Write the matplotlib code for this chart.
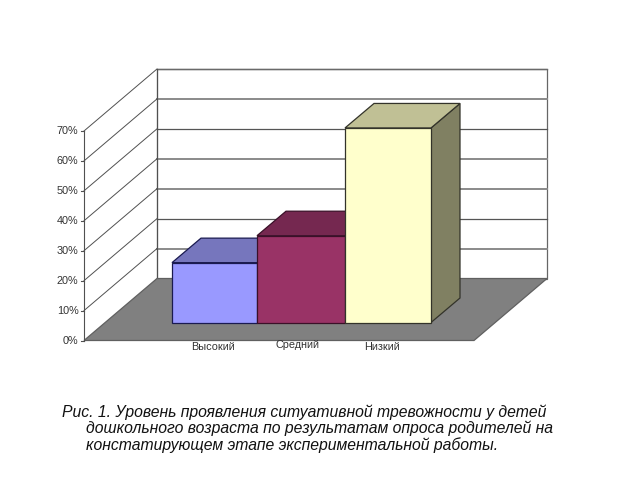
import matplotlib
matplotlib.use('Agg')
import matplotlib.pyplot as plt
from matplotlib.patches import Polygon

# values
categories = ['Высокий', 'Средний', 'Низкий']
values = [20, 29, 65]
ticks = [0, 10, 20, 30, 40, 50, 60, 70]
tick_labels = ['0%', '10%', '20%', '30%', '40%', '50%', '60%', '70%']
caption = ['Рис. 1. Уровень проявления ситуативной тревожности у детей',
           'дошкольного возраста по результатам опроса родителей на',
           'констатирующем этапе экспериментальной работы.']

front_colors = ['#9999ff', '#993366', '#ffffcc']
top_colors = ['#7676bd', '#752850', '#c0c095']
side_colors = ['#7070b0', '#6e2349', '#808062']
edge_colors = ['#1a1a50', '#3a1028', '#33332a']
grid_colors = ['#555555', '#8a8a8a', '#555555', '#8a8a8a', '#8a8a8a', '#555555', '#8a8a8a', '#6a6a6a']
grid_widths = [1.0, 1.4, 0.9, 1.4, 1.4, 0.9, 1.4, 1.0]

plt.rcParams['font.family'] = ['Liberation Sans', 'DejaVu Sans']

# the 3d box is sheared by hand, the axes is in pixels of the figure
fig = plt.figure(figsize=(6.4, 4.8), dpi=100)
ax = fig.add_axes([0, 0, 1, 1])
ax.set_xlim(0, 640)
ax.set_ylim(480, 0)
ax.axis('off')

x_left = 84
x_right = 474
y_zero = 340.5
px_per_pct = 2.993
wall_dx = 73
wall_dy = -62
bar_dx = 29
bar_dy = -24.5
bar_base = 322.5
bar_edges = [172, 257, 345, 431]
line_col = '#505050'


def val_y(v):
    return y_zero - v * px_per_pct


# back wall
top = val_y(ticks[-1])
ax.add_patch(Polygon([(x_left + wall_dx, top + wall_dy), (x_right + wall_dx, top + wall_dy),
                      (x_right + wall_dx, y_zero + wall_dy), (x_left + wall_dx, y_zero + wall_dy)],
                     fc='white', ec='#666666', lw=0.9, zorder=1))

# floor
ax.add_patch(Polygon([(x_left, y_zero), (x_right, y_zero),
                      (x_right + wall_dx, y_zero + wall_dy), (x_left + wall_dx, y_zero + wall_dy)],
                     fc='#808080', ec='#606060', lw=0.9, zorder=2))

# grid and left wall
for t, lab, c, w in zip(ticks, tick_labels, grid_colors, grid_widths):
    y = val_y(t)
    if t > 0:
        ax.plot([x_left + wall_dx, x_right + wall_dx], [y + wall_dy, y + wall_dy], color=c, lw=w, zorder=1.5)
        ax.plot([x_left, x_left + wall_dx], [y, y + wall_dy], color=line_col, lw=0.7, zorder=1.5)
    ax.plot([x_left - 3, x_left], [y, y], color=line_col, lw=0.8, zorder=3)
    ax.text(x_left - 5.5, y, lab, ha='right', va='center', fontsize=7.8, color='#333333')
ax.plot([x_left, x_left], [y_zero, val_y(ticks[-1])], color=line_col, lw=0.8, zorder=3)
ax.plot([x_left + wall_dx] * 2, [y_zero + wall_dy, top + wall_dy], color=line_col, lw=0.8, zorder=1.5)

# bars, left to right so the next one covers the side of the previous
for i, v in enumerate(values):
    x0, x1 = bar_edges[i], bar_edges[i + 1]
    h = v * px_per_pct
    y_top = bar_base - h
    ax.add_patch(Polygon([(x1, bar_base), (x1 + bar_dx, bar_base + bar_dy),
                          (x1 + bar_dx, y_top + bar_dy), (x1, y_top)],
                         fc=side_colors[i], ec=edge_colors[i], lw=0.9, zorder=4))
    ax.add_patch(Polygon([(x0, y_top), (x1, y_top), (x1 + bar_dx, y_top + bar_dy), (x0 + bar_dx, y_top + bar_dy)],
                         fc=top_colors[i], ec=edge_colors[i], lw=0.9, zorder=4))
    ax.add_patch(Polygon([(x0, bar_base), (x1, bar_base), (x1, y_top), (x0, y_top)],
                         fc=front_colors[i], ec=edge_colors[i], lw=0.9, zorder=4))

# category labels, the middle one sits a bit higher in the original
for name, xc, yc in zip(categories, [213, 297, 382], [347.5, 345, 347.5]):
    ax.text(xc, yc, name, ha='center', va='center', fontsize=7.8, color='#333333')

for line, xc, yc in zip(caption, [62, 85.5, 85.5], [412, 428.5, 445]):
    ax.text(xc, yc, line, ha='left', va='center', fontsize=11.3, style='italic', color='#111111')

fig.savefig('out.png', dpi=100)
